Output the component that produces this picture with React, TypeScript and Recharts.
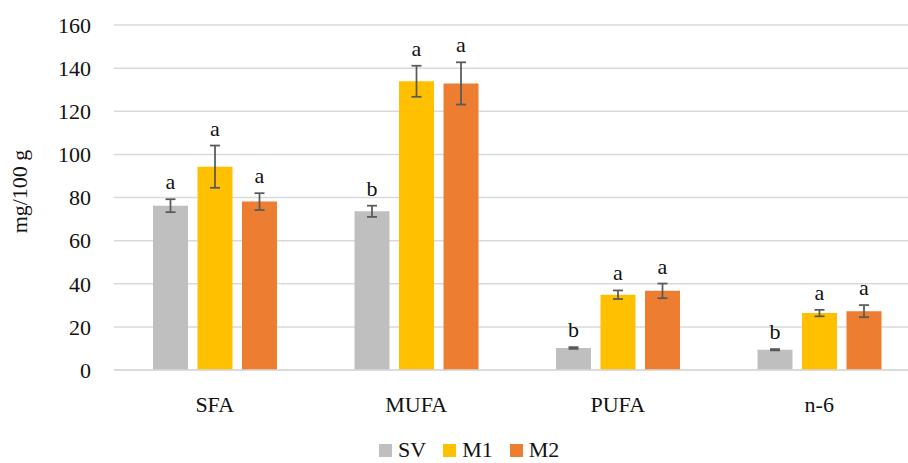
import { BarChart, Bar, XAxis, YAxis, CartesianGrid, ErrorBar, LabelList } from "recharts";

const categories = ["SFA", "MUFA", "PUFA", "n-6"];
const svValues = [76.2, 73.6, 10.2, 9.4];
const m1Values = [94.3, 133.9, 34.9, 26.4];
const m2Values = [78.1, 132.9, 36.7, 27.3];
const svErr = [3.0, 2.6, 0.4, 0.3];
const m1Err = [9.8, 7.2, 2.0, 1.5];
const m2Err = [3.9, 9.8, 3.4, 2.8];
const svLetters = ["a", "b", "b", "b"];
const m1Letters = ["a", "a", "a", "a"];
const m2Letters = ["a", "a", "a", "a"];
const yTicks = [0, 20, 40, 60, 80, 100, 120, 140, 160];

const FONT = "'Liberation Serif', serif";
const TEXT = "#111";

const data = categories.map((c, i) => ({
  cat: c,
  SV: svValues[i],
  M1: m1Values[i],
  M2: m2Values[i],
  svErr: svErr[i],
  m1Err: m1Err[i],
  m2Err: m2Err[i],
}));

const series = [
  { key: "SV", err: "svErr", errs: svErr, letters: svLetters, color: "#bfbfbf" },
  { key: "M1", err: "m1Err", errs: m1Err, letters: m1Letters, color: "#ffc000" },
  { key: "M2", err: "m2Err", errs: m2Err, letters: m2Letters, color: "#ed7d31" },
];

// letter sits just above the top of the error bar
function letterAt(p: any, errs: number[], letters: string[]) {
  const { x, y, width, height, value, index } = p;
  const ppu = value ? height / value : 0;
  const top = y - errs[index] * ppu;
  return (
    <text
      x={x + width / 2}
      y={top - 10}
      textAnchor="middle"
      fontFamily={FONT}
      fontSize={22}
      fill={TEXT}
    >
      {letters[index]}
    </text>
  );
}

function YLabel({ viewBox }: any) {
  const cx = viewBox.x + 19;
  const cy = viewBox.y + viewBox.height / 2 - 6;
  return (
    <text
      x={cx}
      y={cy}
      transform={`rotate(-90 ${cx} ${cy})`}
      textAnchor="middle"
      dominantBaseline="central"
      fontFamily={FONT}
      fontSize={22}
      fill={TEXT}
    >
      mg/100 g
    </text>
  );
}

export default function App() {
  return (
    <div
      style={{
        position: "fixed",
        left: 0,
        top: 0,
        width: 908,
        height: 463,
        overflow: "hidden",
        background: "#fff",
      }}
    >
      <BarChart
        width={920}
        height={463}
        data={data}
        margin={{ top: 25, right: 0, bottom: 33, left: 0 }}
        barSize={35}
        barGap={9.5}
      >
        <CartesianGrid vertical={false} stroke="#d9d9d9" strokeWidth={1.5} />
        <XAxis
          dataKey="cat"
          height={60}
          axisLine={{ stroke: "#d9d9d9", strokeWidth: 1.5 }}
          tickLine={false}
          tickSize={0}
          tickMargin={26}
          tick={{ fontFamily: FONT, fontSize: 22, fill: TEXT }}
        />
        <YAxis
          width={114}
          domain={[0, 160]}
          ticks={yTicks}
          axisLine={false}
          tickLine={false}
          tickSize={0}
          tickMargin={23}
          tick={{ fontFamily: FONT, fontSize: 22, fill: TEXT }}
          label={<YLabel />}
        />
        {series.map((s) => (
          <Bar key={s.key} dataKey={s.key} fill={s.color} isAnimationActive={false}>
            <ErrorBar dataKey={s.err} width={5} stroke="#595959" strokeWidth={1.75} isAnimationActive={false} />
            <LabelList dataKey={s.key} content={(p: any) => letterAt(p, s.errs, s.letters)} />
          </Bar>
        ))}
      </BarChart>
      <div
        style={{
          position: "absolute",
          left: 379,
          top: 438,
          display: "flex",
          alignItems: "center",
          fontFamily: FONT,
          fontSize: 22,
          color: TEXT,
          lineHeight: "24px",
        }}
      >
        {series.map((s) => (
          <div key={s.key} style={{ display: "flex", alignItems: "center", marginRight: 17 }}>
            <span style={{ display: "inline-block", width: 13, height: 13, background: s.color, marginRight: 6 }} />
            <span>{s.key}</span>
          </div>
        ))}
      </div>
    </div>
  );
}
